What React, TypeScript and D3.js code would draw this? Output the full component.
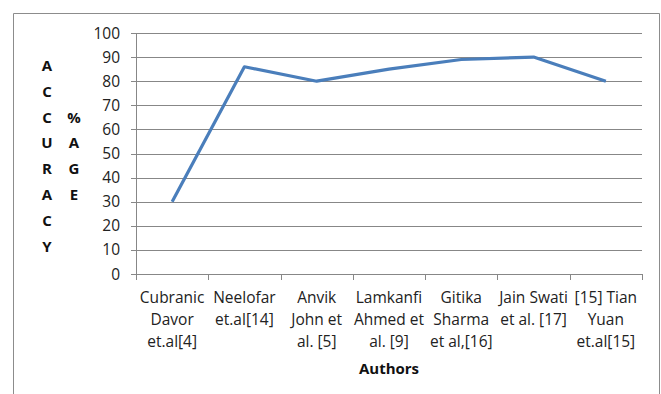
import React from "react";
import * as d3 from "d3";

const categories: string[][] = [
  ["Cubranic", "Davor", "et.al[4]"],
  ["Neelofar", "et.al[14]"],
  ["Anvik", "John et", "al. [5]"],
  ["Lamkanfi", "Ahmed et", "al. [9]"],
  ["Gitika", "Sharma", "et al,[16]"],
  ["Jain Swati", "et al. [17]"],
  ["[15] Tian", "Yuan", "et.al[15]"],
];
const accuracy: number[] = [30, 86, 80, 85, 89, 90, 80];
const yTicks: number[] = [0, 10, 20, 30, 40, 50, 60, 70, 80, 90, 100];
const yTitle1: string[] = ["A", "C", "C", "U", "R", "A", "C", "Y"];
const yTitle2: string[] = ["%", "A", "G", "E"];
const xTitle = "Authors";

const W = 661;
const H = 394;
const FONT = "'Open Sans', Carlito, Calibri, sans-serif";

export default function App() {
  const left = 136;
  const right = 642;
  const top = 33;
  const bottom = 274;
  const ids = categories.map((_, i) => String(i));
  const x = d3.scaleBand<string>().domain(ids).range([left, right]);
  const y = d3.scaleLinear().domain([0, 100]).range([bottom, top]);
  const line = d3
    .line<number>()
    .x((_, i) => (x(String(i)) as number) + x.bandwidth() / 2)
    .y((d) => y(d));
  const grid = "#878787";
  const tickEdges = [...ids.map((id) => x(id) as number), right];

  return (
    <svg
      width={W}
      height={H}
      style={{ position: "absolute", left: 0, top: 0, background: "#fff" }}
    >
      <rect x={0} y={0} width={W} height={H} fill="#fff" />
      {/* outer border */}
      <path
        d={`M13.5,${H} V13.5 H659.5 V${H}`}
        fill="none"
        stroke="#8c8c8c"
        strokeWidth={1}
      />
      {/* gridlines */}
      {yTicks.map((t) => (
        <line
          key={"g" + t}
          x1={left - 5}
          x2={right}
          y1={Math.round(y(t)) + 0.5}
          y2={Math.round(y(t)) + 0.5}
          stroke={grid}
          strokeWidth={1}
        />
      ))}
      {/* y axis */}
      <line x1={left + 0.5} x2={left + 0.5} y1={top} y2={bottom} stroke={grid} />
      {/* x ticks */}
      {tickEdges.map((xx, i) => (
        <line
          key={"t" + i}
          x1={Math.round(xx) + 0.5}
          x2={Math.round(xx) + 0.5}
          y1={bottom}
          y2={bottom + 6}
          stroke={grid}
        />
      ))}
      {/* y tick labels */}
      {yTicks.map((t) => (
        <text
          key={"yl" + t}
          x={120}
          y={y(t)}
          dy="0.36em"
          textAnchor="end"
          fontFamily={FONT}
          fontSize={15.5}
          fill="#222"
        >
          {t}
        </text>
      ))}
      {/* x labels */}
      {categories.map((lines, i) => (
        <text
          key={"xl" + i}
          x={(x(String(i)) as number) + x.bandwidth() / 2}
          textAnchor="middle"
          fontFamily={FONT}
          fontSize={15.5}
          fill="#222"
        >
          {lines.map((l, j) => (
            <tspan key={j} x={(x(String(i)) as number) + x.bandwidth() / 2} y={303 + j * 22}>
              {l}
            </tspan>
          ))}
        </text>
      ))}
      {/* x title */}
      <text
        x={(left + right) / 2}
        y={374}
        textAnchor="middle"
        fontFamily={FONT}
        fontSize={15}
        fontWeight="bold"
        fill="#111"
      >
        {xTitle}
      </text>
      {/* y title */}
      {yTitle1.map((c, i) => (
        <text
          key={"a" + i}
          x={47}
          y={65.5 + i * 25.8}
          dy="0.36em"
          textAnchor="middle"
          fontFamily={FONT}
          fontSize={15}
          fontWeight="bold"
          fill="#111"
        >
          {c}
        </text>
      ))}
      {yTitle2.map((c, i) => (
        <text
          key={"b" + i}
          x={74}
          y={65.5 + (i + 2) * 25.8}
          dy="0.36em"
          textAnchor="middle"
          fontFamily={FONT}
          fontSize={15}
          fontWeight="bold"
          fill="#111"
        >
          {c}
        </text>
      ))}
      {/* data line */}
      <path
        d={line(accuracy) || ""}
        fill="none"
        stroke="#4a7ebb"
        strokeWidth={3.2}
        strokeLinejoin="round"
      />
    </svg>
  );
}
